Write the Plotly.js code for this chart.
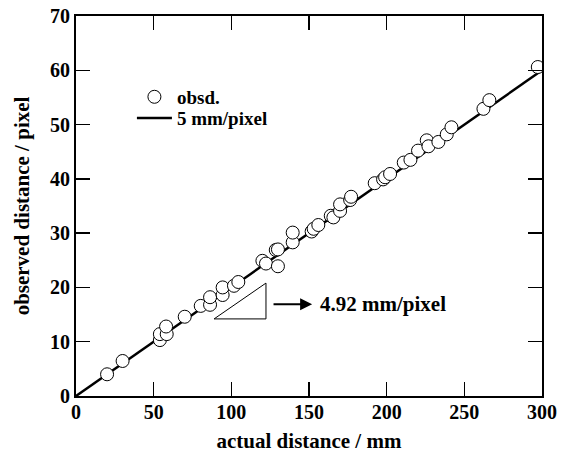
<!DOCTYPE html>
<html>
<head>
<meta charset="utf-8">
<script src="https://cdn.plot.ly/plotly-3.0.1.min.js"></script>
<style>html,body{margin:0;padding:0;background:#fff;}#chart{width:561px;height:454px;}</style>
</head>
<body>
<div id="chart"></div>
<script>
// observed points (actual distance in mm, observed distance in pixel)
var obsX = [20, 30, 54, 54, 58.4, 58, 70, 80.3, 86.3, 86.3, 94.4, 94.4, 101.7, 104.5, 120, 122.3, 128.6, 130, 130, 139.5, 139.5, 151.7, 153, 156, 164, 165.7, 170, 170, 176.5, 177.1, 192.3, 197.7, 199, 202.2, 211, 215.3, 220.2, 225.8, 226.9, 233.3, 238.7, 241.7, 262.3, 266.1, 297.3];
var obsY = [4.0, 6.45, 10.3, 11.4, 11.4, 12.8, 14.6, 16.6, 16.8, 18.2, 18.6, 20.0, 20.3, 21.0, 24.9, 24.4, 26.9, 27.0, 23.9, 28.3, 30.1, 30.3, 30.8, 31.5, 33.2, 32.9, 34.1, 35.3, 36.1, 36.7, 39.2, 39.9, 40.3, 40.9, 43.0, 43.5, 45.2, 47.1, 46.0, 46.8, 48.2, 49.5, 52.9, 54.5, 60.6];
// reference line: 5 mm/pixel
var lineX = [0, 300];
var lineY = [0, 60];
var xTicks = [0, 50, 100, 150, 200, 250, 300];
var yTicks = [0, 10, 20, 30, 40, 50, 60, 70];
var legendNames = ['obsd.', '5 mm/pixel'];
var slopeLabel = '4.92 mm/pixel';

var F = 'Liberation Serif, Times New Roman, serif';
var legFont = {family: F, size: 19, color: '#000', weight: 'bold'};
var noteFont = {family: F, size: 21, color: '#000', weight: 'bold'};
var traces = [
  {x: lineX, y: lineY, mode: 'lines', name: legendNames[1], line: {color: '#000', width: 2.5},
   showlegend: true, legend: 'legend2'},
  {x: obsX, y: obsY, mode: 'markers', name: legendNames[0], showlegend: true, legend: 'legend',
   marker: {symbol: 'circle', size: 13, color: '#fff', line: {color: '#000', width: 1}}}
];
var axisCommon = {
  showgrid: false, zeroline: false, showline: true, linecolor: '#000', linewidth: 2,
  mirror: 'ticks', ticks: 'inside', ticklen: 14, tickwidth: 1.5, tickcolor: '#000',
  tickfont: {family: F, size: 20, color: '#000', weight: 'bold'}
};
var layout = {
  width: 561, height: 454,
  margin: {l: 76, r: 19, t: 16, b: 58},
  paper_bgcolor: '#fff', plot_bgcolor: '#fff',
  font: {family: F, color: '#000'},
  xaxis: Object.assign({}, axisCommon, {range: [0, 300], tickvals: xTicks, ticktext: xTicks.map(String),
    ticklabelstandoff: -3,
    title: {text: 'actual distance / mm', font: {family: F, size: 21, weight: 'bold'}, standoff: 11}}),
  yaxis: Object.assign({}, axisCommon, {range: [0, 70], tickvals: yTicks, ticktext: yTicks.map(String),
    title: {text: 'observed distance / pixel', font: {family: F, size: 21, weight: 'bold'}, standoff: 15}}),
  showlegend: true,
  legend: {x: 0.12, y: 0.837, xanchor: 'left', yanchor: 'top',
    bgcolor: 'rgba(0,0,0,0)', itemwidth: 35, font: legFont},
  legend2: {x: 0.12, y: 0.781, xanchor: 'left', yanchor: 'top',
    bgcolor: 'rgba(0,0,0,0)', itemwidth: 35, font: legFont},
  shapes: [
    {type: 'path', xref: 'x', yref: 'y', path: 'M 88.9 14.2 L 122.3 20.8 L 122.3 14.2 Z', line: {color: '#000', width: 1}, fillcolor: 'rgba(0,0,0,0)'}
  ],
  annotations: [
    {x: 152, y: 16.9, ax: 126.2, ay: 16.9, axref: 'x', ayref: 'y', xref: 'x', yref: 'y',
     showarrow: true, arrowhead: 2, arrowsize: 1.2, arrowwidth: 2, arrowcolor: '#000', text: ''},
    {x: 155.5, y: 16.9, xref: 'x', yref: 'y', xanchor: 'left', yanchor: 'middle', showarrow: false,
     text: slopeLabel, font: noteFont}
  ]
};
Plotly.newPlot('chart', traces, layout, {displayModeBar: false, staticPlot: true});
</script>
</body>
</html>
